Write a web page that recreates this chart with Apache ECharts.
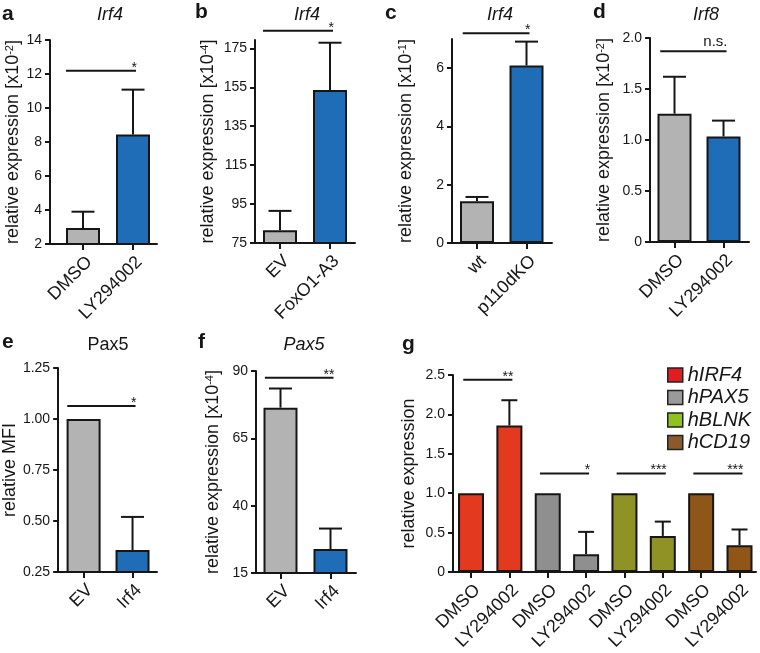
<!DOCTYPE html>
<html><head><meta charset="utf-8">
<script src="https://cdn.jsdelivr.net/npm/echarts@6/dist/echarts.min.js"></script>
<style>html,body{margin:0;padding:0;background:#fff}#c{width:760px;height:653px}</style>
</head><body><div id="c"></div>
<script>
// ---------- data ----------
const aCats = ['DMSO', 'LY294002'];
const aMeans = [2.94, 8.44];
const aErrTop = [3.9, 11.08];
const aTicks = [2, 4, 6, 8, 10, 12, 14];
const aTickLabels = ['2', '4', '6', '8', '10', '12', '14'];
const aSig = [[0, 1, 12.19, '*']];

const bCats = ['EV', 'FoxO1-A3'];
const bMeans = [81.5, 153.6];
const bErrTop = [91.5, 177.9];
const bTicks = [75, 95, 115, 135, 155, 175];
const bTickLabels = ['75', '95', '115', '135', '155', '175'];
const bSig = [[0, 1, 184.1, '*']];

const cCats = ['wt', 'p110dKO'];
const cMeans = [1.43, 6.09];
const cErrTop = [1.58, 6.91];
const cTicks = [0, 2, 4, 6];
const cTickLabels = ['0', '2', '4', '6'];
const cSig = [[0, 1, 7.2, '*']];

const dCats = ['DMSO', 'LY294002'];
const dMeans = [1.258, 1.035];
const dErrTop = [1.62, 1.19];
const dTicks = [0, 0.5, 1, 1.5, 2];
const dTickLabels = ['0', '0.5', '1.0', '1.5', '2.0'];
const dSig = [[0, 1, 1.87, 'n.s.']];

const eCats = ['EV', 'Irf4'];
const eMeans = [1.0, 0.358];
const eErrTop = [null, 0.52];
const eTicks = [0.25, 0.5, 0.75, 1, 1.25];
const eTickLabels = ['0.25', '0.50', '0.75', '1.00', '1.25'];
const eSig = [[0, 1, 1.064, '*']];

const fCats = ['EV', 'Irf4'];
const fMeans = [76.4, 23.9];
const fErrTop = [83.5, 31.5];
const fTicks = [15, 40, 65, 90];
const fTickLabels = ['15', '40', '65', '90'];
const fSig = [[0, 1, 87.5, '**']];

const gCats = ['DMSO', 'LY294002', 'DMSO', 'LY294002', 'DMSO', 'LY294002', 'DMSO', 'LY294002'];
const gGenes = ['hIRF4', 'hPAX5', 'hBLNK', 'hCD19'];
const gIRF4 = [1.0, 1.86];
const gIRF4Err = [null, 2.18];
const gPAX5 = [1.0, 0.227];
const gPAX5Err = [null, 0.51];
const gBLNK = [1.0, 0.458];
const gBLNKErr = [null, 0.64];
const gCD19 = [1.0, 0.34];
const gCD19Err = [null, 0.54];
const gTicks = [0, 0.5, 1, 1.5, 2, 2.5];
const gTickLabels = ['0', '0.5', '1.0', '1.5', '2.0', '2.5'];
const gSig = [[0, 1, 2.44, '**'], [2, 3, 1.25, '*'], [4, 5, 1.25, '***'], [6, 7, 1.25, '***']];

// ---------- style ----------
const FONT = '"Liberation Sans", Arial, Helvetica, sans-serif';
const INK = '#161616';
const GRAY = '#b3b3b3', BLUE = '#1e6db6';
const G_BAR = ['#e2391f', '#8f8f8f', '#8f9224', '#8f5618'];
const G_LEG = ['#e31b23', '#9a9a9a', '#8dc21f', '#8b5a2b'];

const twoBar = (means, err, colors) => [{ name: '', means, err, xs: [0, 1], colors }];
const gVals = [gIRF4, gPAX5, gBLNK, gCD19];
const gErrs = [gIRF4Err, gPAX5Err, gBLNKErr, gCD19Err];

const panels = [
  { cats: aCats, series: twoBar(aMeans, aErrTop, [GRAY, BLUE]), ticks: aTicks, tickLabels: aTickLabels, sig: aSig,
    yName: 'relative expression [x10{sup|-2}]', grid: { left: 50, top: 40, width: 107, height: 204 },
    x: [-0.66, 1.48], y: [2, 14], nameGap: 28, barW: 34, capW: 23, sigL: 0.5 },
  { cats: bCats, series: twoBar(bMeans, bErrTop, [GRAY, BLUE]), ticks: bTicks, tickLabels: bTickLabels, sig: bSig,
    yName: 'relative expression [x10{sup|-4}]', grid: { left: 255, top: 40, width: 100, height: 203 },
    x: [-0.5, 1.5], y: [75, 179.3], nameGap: 38, barW: 34, capW: 23, sigL: 0.5 },
  { cats: cCats, series: twoBar(cMeans, cErrTop, [GRAY, BLUE]), ticks: cTicks, tickLabels: cTickLabels, sig: cSig,
    yName: 'relative expression [x10{sup|-1}]', grid: { left: 452, top: 39, width: 100, height: 204 },
    x: [-0.505, 1.515], y: [0, 7], nameGap: 37, barW: 34, capW: 23, sigL: 0.42 },
  { cats: dCats, series: twoBar(dMeans, dErrTop, [GRAY, BLUE]), ticks: dTicks, tickLabels: dTickLabels, sig: dSig,
    yName: 'relative expression [x10{sup|-2}]', grid: { left: 650, top: 38, width: 99, height: 204 },
    x: [-0.5, 1.52], y: [0, 2], nameGap: 37, barW: 34, capW: 23, sigL: 0.42 },
  { cats: eCats, series: twoBar(eMeans, eErrTop, [GRAY, BLUE]), ticks: eTicks, tickLabels: eTickLabels, sig: eSig,
    yName: 'relative MFI', grid: { left: 58, top: 368, width: 99, height: 204 },
    x: [-0.52, 1.5], y: [0.25, 1.25], nameGap: 38, barW: 34, capW: 23, sigL: 0.48 },
  { cats: fCats, series: twoBar(fMeans, fErrTop, [GRAY, BLUE]), ticks: fTicks, tickLabels: fTickLabels, sig: fSig,
    yName: 'relative expression [x10{sup|-4}]', grid: { left: 256, top: 371, width: 100, height: 202 },
    x: [-0.49, 1.51], y: [15, 90], nameGap: 34, barW: 34, capW: 23, sigL: 0.46 },
  { cats: gCats, series: gGenes.map((g, k) => ({ name: g, means: gVals[k], err: gErrs[k], xs: [2 * k, 2 * k + 1], colors: [G_BAR[k], G_BAR[k]] })),
    ticks: gTicks, tickLabels: gTickLabels, sig: gSig,
    yName: 'relative expression', grid: { left: 453, top: 375, width: 303, height: 198 },
    x: [-0.47, 7.43], y: [0, 2.5], nameGap: 35, barW: 26, capW: 16, sigL: 0.3 }
];

const option = { animation: false, grid: [], xAxis: [], yAxis: [], series: [], graphic: [] };

panels.forEach((p, i) => {
  option.grid.push(Object.assign({ containLabel: false }, p.grid));
  const xVals = p.cats.map((_, k) => k);
  option.xAxis.push({
    type: 'value', gridIndex: i, min: p.x[0], max: p.x[1],
    splitLine: { show: false },
    axisLine: { show: true, onZero: false, lineStyle: { color: INK, width: 2 } },
    axisTick: { show: true, customValues: xVals, length: 6, lineStyle: { color: INK, width: 2 } },
    axisLabel: { show: true, customValues: xVals, rotate: 45, margin: 9, fontSize: 18, color: INK, fontFamily: FONT,
      align: 'right', verticalAlign: 'top',
      formatter: v => p.cats[Math.round(v)] }
  });
  option.yAxis.push({
    type: 'value', gridIndex: i, min: p.y[0], max: p.y[1],
    splitLine: { show: false },
    axisLine: { show: true, onZero: false, lineStyle: { color: INK, width: 2 } },
    axisTick: { show: true, customValues: p.ticks, length: 5, lineStyle: { color: INK, width: 2 } },
    axisLabel: { show: true, customValues: p.ticks, margin: 8, fontSize: 14, color: INK, fontFamily: FONT,
      formatter: v => { const k = p.ticks.findIndex(t => Math.abs(t - v) < 1e-9); return k >= 0 ? p.tickLabels[k] : ''; } },
    name: p.yName, nameLocation: 'middle', nameGap: p.nameGap,
    nameTextStyle: { fontSize: 18, color: INK, fontFamily: FONT,
      rich: { sup: { fontSize: 11, color: INK, fontFamily: FONT, verticalAlign: 'top' } } }
  });

  p.series.forEach(s => {
    option.series.push({
      type: 'bar', name: s.name || undefined, xAxisIndex: i, yAxisIndex: i, barWidth: p.barW, barGap: '-100%',
      silent: true, z: 2,
      itemStyle: { borderColor: INK, borderWidth: 2 },
      data: s.means.map((v, k) => ({ value: [s.xs[k], v], itemStyle: { color: s.colors[k] } }))
    });
    const errData = [];
    s.means.forEach((v, k) => { if (s.err[k] != null) errData.push([s.xs[k], v, s.err[k]]); });
    if (errData.length) {
      option.series.push({
        type: 'custom', xAxisIndex: i, yAxisIndex: i, silent: true, z: 3, clip: false,
        encode: { x: 0, y: 1 },
        data: errData,
        renderItem: (params, api) => {
          const x = api.value(0), m = api.value(1), t = api.value(2);
          const p0 = api.coord([x, m]), p1 = api.coord([x, t]);
          const h = p.capW / 2;
          return { type: 'group', children: [
            { type: 'line', shape: { x1: p0[0], y1: p0[1], x2: p1[0], y2: p1[1] }, style: { stroke: INK, lineWidth: 2 } },
            { type: 'line', shape: { x1: p1[0] - h, y1: p1[1], x2: p1[0] + h, y2: p1[1] }, style: { stroke: INK, lineWidth: 2 } }
          ] };
        }
      });
    }
  });

  option.series.push({
    type: 'custom', xAxisIndex: i, yAxisIndex: i, silent: true, z: 4, clip: false,
    encode: { x: 0, y: 1 },
    data: p.sig.map(s => [s[0], s[2], s[1]]),
    renderItem: (params, api) => {
      const s = p.sig[params.dataIndex];
      const pl = api.coord([s[0], s[2]]), pr = api.coord([s[1], s[2]]);
      const x1 = pl[0] - p.barW * p.sigL, x2 = pr[0] + 3;
      const star = /^\*+$/.test(s[3]);
      return { type: 'group', children: [
        { type: 'line', shape: { x1, y1: pl[1], x2, y2: pl[1] }, style: { stroke: INK, lineWidth: 2 } },
        { type: 'text', x: x2 + 1, y: star ? pl[1] - 3 : pl[1] - 2,
          style: { text: s[3], textAlign: 'right', textVerticalAlign: star ? 'middle' : 'bottom',
            fill: INK, fontSize: star ? 14 : 15, fontFamily: FONT } }
      ] };
    }
  });
});

option.legend = {
  show: true, orient: 'vertical', left: 667, top: 365, padding: 0, itemWidth: 15, itemHeight: 14, itemGap: 2.5,
  icon: 'rect', selectedMode: false,
  textStyle: { fontSize: 20, lineHeight: 20, fontStyle: 'italic', color: INK, fontFamily: FONT },
  data: gGenes.map((g, k) => ({ name: g, itemStyle: { color: G_LEG[k], borderColor: '#222', borderWidth: 1.5 } }))
};

const letters = [['a', 2, 14], ['b', 195, 12], ['c', 385, 13], ['d', 593, 12], ['e', 2, 342], ['f', 198, 342], ['g', 402, 344]];
const titles = [['Irf4', 110, 15, true], ['Irf4', 307, 15, true], ['Irf4', 500, 15, true], ['Irf8', 706, 15, true], ['Pax5', 108, 345, false], ['Pax5', 304, 345, true]];
letters.forEach(l => option.graphic.push({ type: 'text', x: l[1], y: l[2], silent: true,
  style: { text: l[0], fontSize: 21, fontWeight: 'bold', fontFamily: FONT, fill: INK, textAlign: 'left', textVerticalAlign: 'middle' } }));
titles.forEach(t => option.graphic.push({ type: 'text', x: t[1], y: t[2], silent: true,
  style: { text: t[0], fontSize: 18, fontStyle: t[3] ? 'italic' : 'normal', fontFamily: FONT, fill: INK, textAlign: 'center', textVerticalAlign: 'middle' } }));

const chart = echarts.init(document.getElementById('c'), null, { renderer: 'canvas' });
chart.setOption(option);
</script></body></html>
